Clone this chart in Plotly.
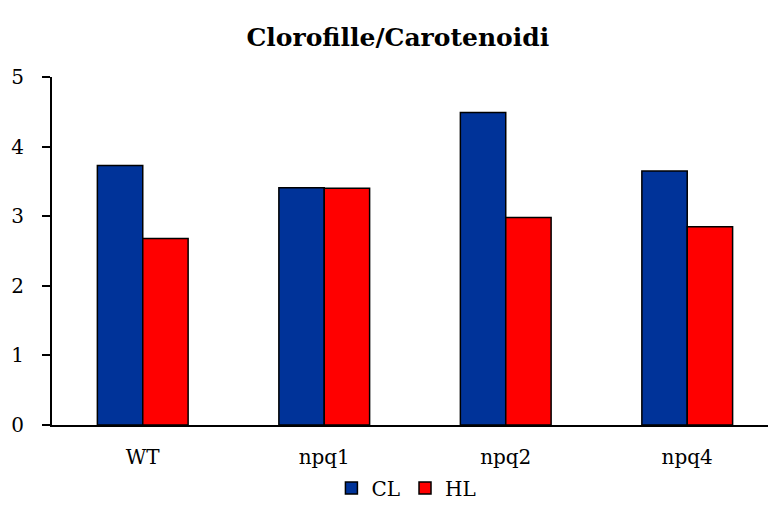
import plotly.graph_objects as go

# Category labels and series values
categories = ["WT", "npq1", "npq2", "npq4"]
cl_values = [3.73, 3.41, 4.49, 3.65]
hl_values = [2.68, 3.40, 2.98, 2.85]
y_ticks = [0, 1, 2, 3, 4, 5]

FONT = "DejaVu Serif"

fig = go.Figure()
fig.add_trace(go.Bar(
    name="CL", x=categories, y=cl_values,
    marker=dict(color="#003399", line=dict(color="black", width=1.5)),
))
fig.add_trace(go.Bar(
    name="HL", x=categories, y=hl_values,
    marker=dict(color="#FF0000", line=dict(color="black", width=1.5)),
))

fig.update_layout(
    width=768, height=526,
    margin=dict(l=52, r=0, t=77, b=101),
    paper_bgcolor="white", plot_bgcolor="white",
    barmode="group", bargap=0.5, bargroupgap=0,
    font=dict(family=FONT, color="black", size=20),
    title=dict(
        text="<b>Clorofille/Carotenoidi</b>",
        x=0.518, xanchor="center", y=0.93, yanchor="middle",
        font=dict(family=FONT, size=25, color="black"),
    ),
    legend=dict(
        orientation="h", x=0.495, xanchor="center", y=-0.125, yanchor="top",
        font=dict(family=FONT, size=20), itemwidth=30, traceorder="normal",
    ),
    showlegend=True,
)

fig.update_xaxes(
    range=[-0.5, 3.445],
    showline=True, linecolor="black", linewidth=2,
    showgrid=False, zeroline=False, ticks="",
    tickfont=dict(family=FONT, size=20),
    ticklabelstandoff=13,
)
fig.update_yaxes(
    range=[0, 5], tickvals=y_ticks,
    showline=True, linecolor="black", linewidth=2,
    showgrid=False, zeroline=False,
    ticks="outside", ticklen=8, tickwidth=2, tickcolor="black",
    tickfont=dict(family=FONT, size=20),
    ticklabelstandoff=14,
)

fig.write_html("out.html")
